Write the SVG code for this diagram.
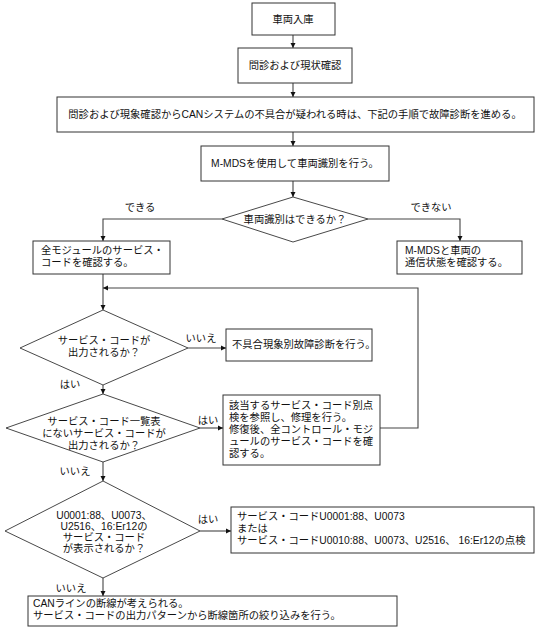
<svg xmlns="http://www.w3.org/2000/svg" width="536" height="634" viewBox="0 0 536 634">
<style>
text{font-family:"Liberation Sans","Noto Sans CJK JP",sans-serif;font-size:10.3px;fill:#111;}
.c{text-anchor:middle;}
.box{fill:#fff;stroke:#333;stroke-width:1;}
.dia{fill:#fff;stroke:#333;stroke-width:0.9;}
.ln{fill:none;stroke:#444;stroke-width:1.1;}
</style>
<defs>
<marker id="ah" markerUnits="userSpaceOnUse" markerWidth="6" markerHeight="6" refX="5" refY="3" orient="auto">
<path d="M0,0.5 L5,3 L0,5.5 z" fill="#111"/>
</marker>
</defs>
<rect width="536" height="634" fill="#fff"/>
<g id="connectors">
<path class="ln" d="M293,35 V48" marker-end="url(#ah)"/>
<path class="ln" d="M293,83 V97" marker-end="url(#ah)"/>
<path class="ln" d="M293,132 V146" marker-end="url(#ah)"/>
<path class="ln" d="M293,181 V197" marker-end="url(#ah)"/>
<path class="ln" d="M222,219 H103 V241" marker-end="url(#ah)"/>
<path class="ln" d="M368,219 H460 V241" marker-end="url(#ah)"/>
<path class="ln" d="M103,274 V310" marker-end="url(#ah)"/>
<path class="ln" d="M380,428 H418 V288 H103" marker-end="url(#ah)"/>
<path class="ln" d="M188,348 H226" marker-end="url(#ah)"/>
<path class="ln" d="M103,385 V394" marker-end="url(#ah)"/>
<path class="ln" d="M200,428 H223" marker-end="url(#ah)"/>
<path class="ln" d="M103,462 V481" marker-end="url(#ah)"/>
<path class="ln" d="M200,531 H231" marker-end="url(#ah)"/>
<path class="ln" d="M103,578 V596" marker-end="url(#ah)"/>
<text x="140" y="211" class="c">できる</text>
<text x="431" y="211" class="c">できない</text>
<text x="201" y="342" class="c">いいえ</text>
<text x="70" y="388" class="c">はい</text>
<text x="208" y="424" class="c">はい</text>
<text x="75" y="475" class="c">いいえ</text>
<text x="208" y="523" class="c">はい</text>
<text x="71" y="592" class="c">いいえ</text>
</g>
<g id="n1"><rect class="box" x="252" y="3" width="83" height="32"/><text x="293" y="23" class="c">車両入庫</text></g>
<g id="n2"><rect class="box" x="238" y="48" width="114" height="35"/><text x="295" y="69" class="c">問診および現状確認</text></g>
<g id="n3"><rect class="box" x="57" y="97" width="477" height="35"/><text x="295" y="118" class="c">問診および現象確認からCANシステムの不具合が疑われる時は、下記の手順で故障診断を進める。</text></g>
<g id="n4"><rect class="box" x="201" y="146" width="188" height="35"/><text x="295" y="167" class="c">M-MDSを使用して車両識別を行う。</text></g>
<g id="d1"><polygon class="dia" points="293,197 368,219 293,242 222,219"/><text x="295" y="223" class="c">車両識別はできるか？</text></g>
<g id="n5"><rect class="box" x="33" y="241" width="137" height="33"/><text x="41" y="254">全モジュールのサービス・</text><text x="41" y="266">コードを確認する。</text></g>
<g id="n6"><rect class="box" x="397" y="241" width="125" height="33"/><text x="405" y="254">M-MDSと車両の</text><text x="405" y="266">通信状態を確認する。</text></g>
<g id="d2"><polygon class="dia" points="103,310 188,348 103,385 20,348"/><text x="104" y="344" class="c">サービス・コードが</text><text x="104" y="356" class="c">出力されるか？</text></g>
<g id="n7"><rect class="box" x="226" y="329" width="146" height="32"/><text x="232" y="348">不具合現象別故障診断を行う。</text></g>
<g id="d3"><polygon class="dia" points="103,394 200,428 103,462 6,428"/><text x="104" y="425" class="c">サービス・コード一覧表</text><text x="104" y="437" class="c">にないサービス・コードが</text><text x="104" y="449" class="c">出力されるか？</text></g>
<g id="n8"><rect class="box" x="223" y="395" width="157" height="70"/><text x="229" y="409">該当するサービス・コード別点</text><text x="229" y="421">検を参照し、修理を行う。</text><text x="229" y="433">修復後、全コントロール・モジ</text><text x="229" y="445">ュールのサービス・コードを確</text><text x="229" y="457">認する。</text></g>
<g id="d4"><polygon class="dia" points="103,481 200,531 103,578 5,531"/><text x="104" y="519" class="c">U0001:88、U0073、</text><text x="104" y="530" class="c">U2516、16:Er12の</text><text x="104" y="541" class="c">サービス・コード</text><text x="104" y="552" class="c">が表示されるか？</text></g>
<g id="n9"><rect class="box" x="231" y="507" width="303" height="46"/><text x="237" y="520">サービス・コードU0001:88、U0073</text><text x="237" y="532">または</text><text x="237" y="544">サービス・コードU0010:88、U0073、U2516、 16:Er12の点検</text></g>
<g id="n10"><rect class="box" x="28" y="596" width="369" height="30"/><text x="33" y="607">CANラインの断線が考えられる。</text><text x="33" y="619">サービス・コードの出力パターンから断線箇所の絞り込みを行う。</text></g>
</svg>
